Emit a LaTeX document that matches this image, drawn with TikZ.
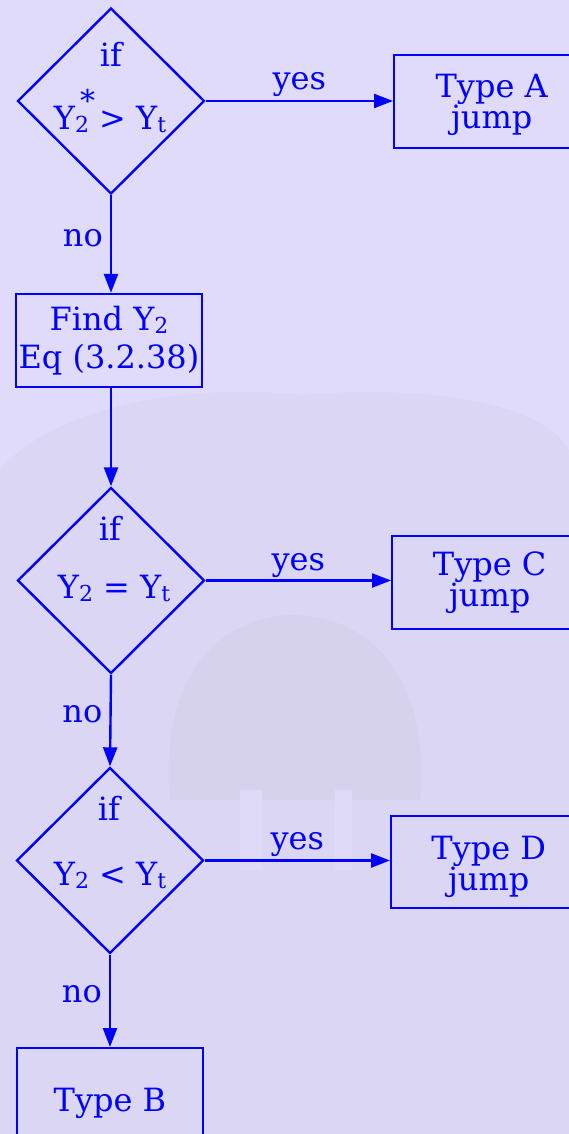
\documentclass[tikz,border=0pt]{standalone}
\usepackage{fontspec}
\setmainfont{DejaVu Serif}
\usetikzlibrary{shapes.geometric,arrows.meta}
\definecolor{bgtop}{RGB}{224,219,250}
\definecolor{bglow}{RGB}{218,214,243}
\definecolor{bghead}{RGB}{214,210,238}
\definecolor{bgtusk}{RGB}{222,218,248}
\definecolor{fc}{RGB}{0,0,255}
\newcommand{\subsz}[1]{\raisebox{-3pt}{\fontsize{22}{22}\selectfont #1}}
\newcommand{\Ytwostar}{Y\rlap{\subsz{2}}\rlap{\hspace{5pt}\raisebox{18pt}{\fontsize{30}{30}\selectfont *}}\hphantom{\subsz{2}}}
\newcommand{\firststrut}[1]{\rule{0pt}{#1}}
\begin{document}
\begin{tikzpicture}[x=1pt,y=-1pt,
  every node/.style={font=\fontsize{32}{29}\selectfont, text=fc},
  dec/.style={draw=fc, line width=2.4pt, shape=diamond, minimum width=187pt, minimum height=186pt, inner sep=0pt},
  boxnode/.style={draw=fc, line width=2.4pt, rectangle, inner sep=0pt, align=center},
  conn/.style={draw=fc, line width=2.4pt, -{Triangle[length=19pt,width=14pt]}},
  lbl/.style={inner sep=0pt}
]
\useasboundingbox (0,0) rectangle (569,1134);
\clip (0,0) rectangle (569,1134);
% faded background photo
\fill[bgtop] (0,0) rectangle (569,1134);
\fill[bglow] (0,1134) -- (0,470) .. controls (40,420) and (160,380) .. (300,395)
  .. controls (420,385) and (540,400) .. (569,450) -- (569,1134) -- cycle;
\fill[bghead] (170,800) .. controls (160,700) and (200,620) .. (290,615)
  .. controls (380,615) and (430,690) .. (420,800) -- cycle;
\fill[bgtusk] (240,790) rectangle (262,870);
\fill[bgtusk] (335,790) rectangle (352,870);

% decisions
\node[dec] (d1) at (111,101) {};
\node[lbl, anchor=base] (d1if) at (111,67) {if};
\node[lbl, anchor=base] (d1c) at (110,130) {\Ytwostar{} > Y\subsz{t}};

\node[dec] (d2) at (111,580.5) {};
\node[lbl, anchor=base] (d2if) at (110,540) {if};
\node[lbl, anchor=base] (d2c) at (114,598) {Y\subsz{2} = Y\subsz{t}};

\node[dec] (d3) at (110,860.5) {};
\node[lbl, anchor=base] (d3if) at (109,820) {if};
\node[lbl, anchor=base] (d3c) at (110,885) {Y\subsz{2} < Y\subsz{t}};

% boxes
\node[boxnode, minimum width=195pt, minimum height=93pt, anchor=north west] (ta) at (393,54) {\firststrut{30pt}Type A\\jump};
\node[boxnode, minimum width=186pt, minimum height=93pt, font=\fontsize{32}{38}\selectfont] (find) at (109,340.5) {Find Y\subsz{2}\\Eq (3.2.38)};
\node[boxnode, minimum width=195pt, minimum height=93pt, anchor=north west] (tc) at (391,535) {Type C\\jump};
\node[boxnode, minimum width=195pt, minimum height=92pt, anchor=north west] (td) at (390,815) {\firststrut{33pt}Type D\\jump};
\node[boxnode, minimum width=186pt, minimum height=110pt, anchor=north] (tb) at (110,1047) {Type B};

% connectors
\draw[conn] (d1.east) -- (d1.east -| ta.west) node[lbl, midway, anchor=base, yshift=11pt] (y1) {yes};
\draw[conn] (d2.east) -- (d2.east -| tc.west) node[lbl, midway, anchor=base, yshift=10pt] (y2) {yes};
\draw[conn] (d3.east) -- (d3.east -| td.west) node[lbl, midway, anchor=base, yshift=11pt] (y3) {yes};
\draw[conn] (d1.south) -- (d1.south |- find.north) node[lbl, midway, anchor=base east, xshift=-7pt, yshift=-2pt] (n1) {no};
\draw[conn] (find.south -| d1.south) -- (d2.north);
\draw[conn] (d2.south) -- (d3.north) node[lbl, midway, anchor=base east, xshift=-7pt, yshift=-2pt] (n2) {no};
\draw[conn] (d3.south) -- (tb.north) node[lbl, midway, anchor=base east, xshift=-7pt, yshift=-2pt] (n3) {no};
\end{tikzpicture}
\end{document}
